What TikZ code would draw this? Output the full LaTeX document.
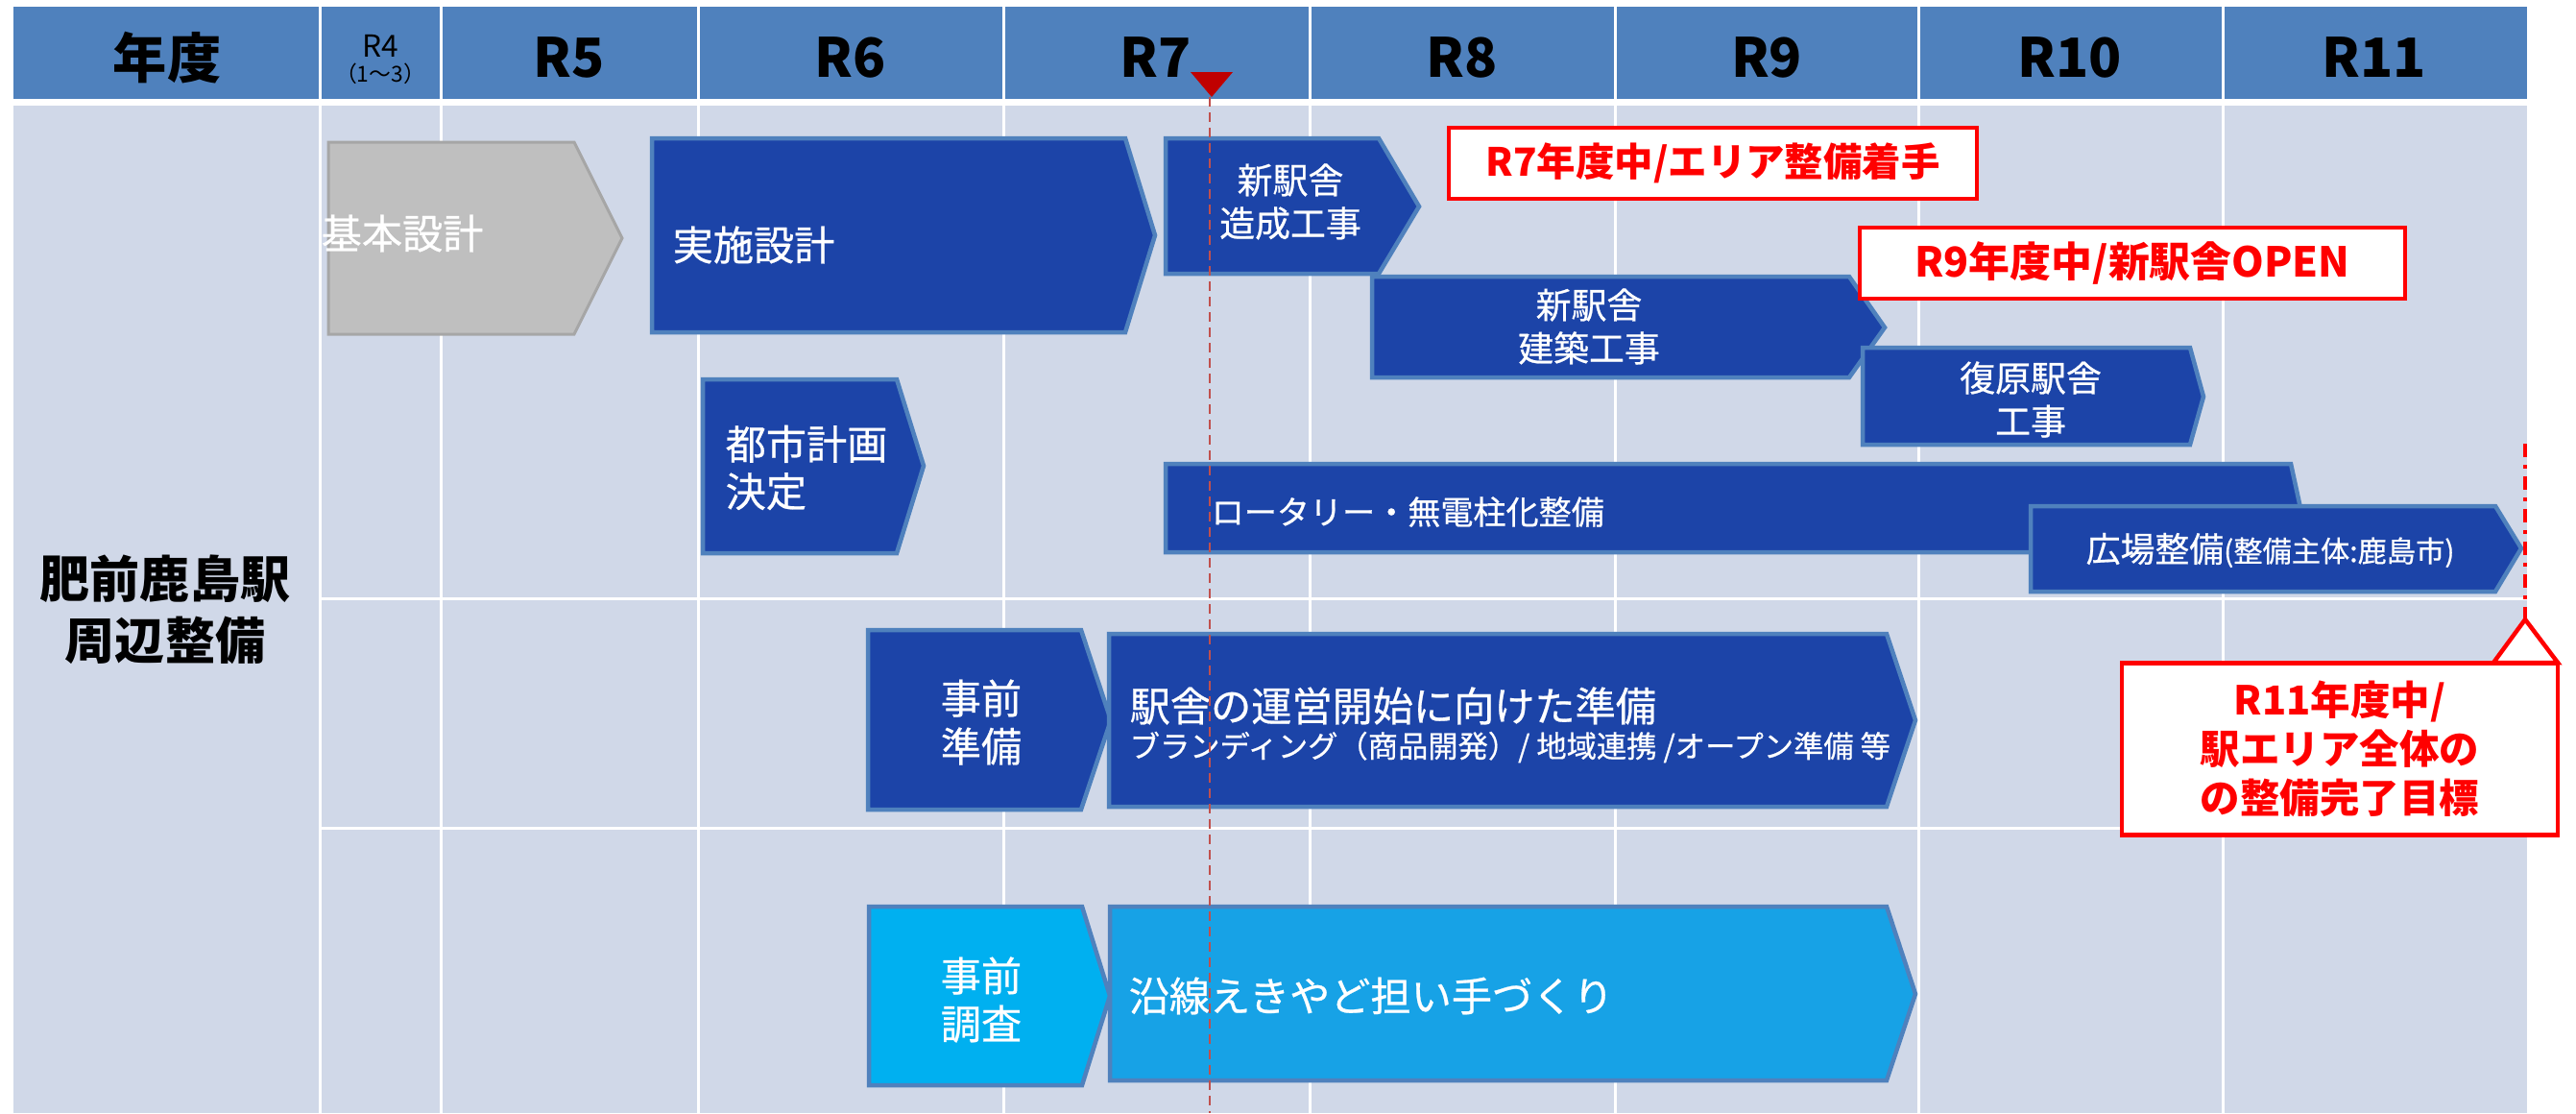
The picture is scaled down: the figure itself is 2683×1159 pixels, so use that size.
\documentclass[tikz,border=0pt]{standalone}
\usepackage{fontspec}
\setmainfont{Noto Sans CJK JP}
\newfontfamily\barfont{Noto Sans CJK JP}[FakeBold=0.6]
\usetikzlibrary{positioning}

\definecolor{headblue}{HTML}{4F81BD}
\definecolor{bodygray}{HTML}{D0D8E8}
\definecolor{barblue}{HTML}{1C44A8}
\definecolor{barcyan}{HTML}{00B0F0}
\definecolor{barsky}{HTML}{17A2E6}
\definecolor{barlight}{HTML}{BFBFBF}
\definecolor{barlightedge}{HTML}{A6A6A6}
\definecolor{nowred}{HTML}{C0504D}
\definecolor{markred}{HTML}{C00000}

\begin{document}
\begin{tikzpicture}[x=0.1mm,y=-0.1mm]

\tikzset{
  sepline/.style={white,line width=0.3mm},
  darkbar/.style={fill=barblue,draw=headblue,line width=0.45mm},
  graybar/.style={fill=barlight,draw=barlightedge,line width=0.3mm},
  cyanbar/.style={fill=barcyan,draw=headblue,line width=0.45mm},
  skybar/.style={fill=barsky,draw=headblue,line width=0.45mm},
  yeartext/.style={font=\bfseries\fontsize{16}{18}\selectfont,inner sep=0pt},
  bartext/.style={text=white,inner sep=0pt,align=left,font=\barfont\fontsize{12}{14}\selectfont},
  midtext/.style={text=white,inner sep=0pt,align=center,font=\barfont\fontsize{10.5}{12.8}\selectfont},
  smalltext/.style={text=white,inner sep=0pt,font=\barfont\fontsize{8.9}{10}\selectfont},
  goalbox/.style={draw=red,line width=0.45mm,fill=white,text=red,font=\bfseries\fontsize{11.5}{13}\selectfont},
}

\useasboundingbox (0,0) rectangle (2683,1159);
\fill[white] (0,0) rectangle (2683,1159);

% table
\fill[headblue] (14,7) rectangle (2632,103);
\fill[bodygray] (14,110) rectangle (2632,1159);
\foreach \x in {333,459,727,1045,1364,1682,1998,2315}
  \draw[sepline] (\x,7) -- (\x,1159);
\foreach \y in {623,862}
  \draw[sepline] (333,\y) -- (2632,\y);

% year row
\node[yeartext] (nendo) at (174,60) {年度};
\node[font=\fontsize{9}{10}\selectfont,inner sep=0pt] (yR4) at (396,48) {R4};
\node[font=\fontsize{6.5}{7}\selectfont,inner sep=0pt,below=1.4pt of yR4] (yR4sub) {（1〜3）};
\foreach \x/\yr in {593/R5,886/R6,1204/R7,1523/R8,1840/R9,2156/R10,2473/R11}
  \node[yeartext] (y\yr) at (\x,60) {\yr};

\node[font=\bfseries\fontsize{14.8}{18.2}\selectfont,align=center,inner sep=0pt] (area) at (172,635) {肥前鹿島駅\\周辺整備};

% design
\draw[graybar] (342,148) -- (598,148) -- (648,248) -- (598,348) -- (342,348) -- cycle;
\node[bartext,anchor=west] (kihon) at (334,243) {基本設計};
\draw[darkbar] (679,144) -- (1172,144) -- (1203,245) -- (1172,346) -- (679,346) -- cycle;
\node[bartext,anchor=west] (jisshi) at (700,255) {実施設計};
\draw[darkbar] (732,395) -- (934,395) -- (962,485) -- (934,576) -- (732,576) -- cycle;
\node[bartext,anchor=west] (toshi) at (755,487) {都市計画\\決定};

% construction
\draw[darkbar] (1214,144) -- (1436,144) -- (1478,215) -- (1436,285) -- (1214,285) -- cycle;
\node[midtext] (zousei) at (1344,210) {新駅舎\\造成工事};
\draw[darkbar] (1429,288) -- (1926,288) -- (1963,341) -- (1926,393) -- (1429,393) -- cycle;
\node[midtext] (kenchiku) at (1655,340) {新駅舎\\建築工事};
\draw[darkbar] (1940,362) -- (2281,362) -- (2295,413) -- (2281,463) -- (1940,463) -- cycle;
\node[midtext] (fukugen) at (2115,416) {復原駅舎\\工事};
\draw[darkbar] (1214,483) -- (2386,483) -- (2396,529) -- (2386,575) -- (1214,575) -- cycle;
\node[bartext,anchor=west,font=\barfont\fontsize{9.7}{11}\selectfont] (rotary) at (1261,533) {ロータリー・無電柱化整備};
\draw[darkbar] (2115,527) -- (2599,527) -- (2626,571) -- (2599,616) -- (2115,616) -- cycle;
\node[bartext,anchor=west,font=\barfont\fontsize{10.2}{12}\selectfont] (hiroba) at (2172,573) {広場整備{\fontsize{8.6}{9}\selectfont(整備主体:鹿島市)}};

% operation
\draw[darkbar] (904,656) -- (1126,656) -- (1157,750) -- (1126,843) -- (904,843) -- cycle;
\node[bartext,align=center,font=\barfont\fontsize{12}{14.2}\selectfont] (junbi) at (1022,752) {事前\\準備};
\draw[darkbar] (1155,660) -- (1965,660) -- (1995,750) -- (1965,840) -- (1155,840) -- cycle;
\node[bartext,anchor=west] (unei) at (1176,735) {駅舎の運営開始に向けた準備};
\node[smalltext,anchor=west] (uneisub) at (1176,778) {ブランディング（商品開発）/ 地域連携 /オープン準備 等};

% people
\draw[cyanbar] (905,944) -- (1127,944) -- (1156,1037) -- (1127,1130) -- (905,1130) -- cycle;
\node[bartext,align=center,font=\barfont\fontsize{12}{14.2}\selectfont] (chousa) at (1022,1041) {事前\\調査};
\draw[skybar] (1156,944) -- (1965,944) -- (1995,1035) -- (1965,1125) -- (1156,1125) -- cycle;
\node[bartext,anchor=west] (ninaite) at (1175,1037) {沿線えきやど担い手づくり};

% now marker
\fill[markred] (1240,75) -- (1284,75) -- (1262,101) -- cycle;
\coordinate (nowtop) at (1260,101);
\coordinate (nowbot) at (1260,1159);
\draw[nowred,line width=0.2mm,dash pattern=on 1mm off 0.6mm] (nowtop) -- (nowbot);

% goals
\node[goalbox,minimum width=55mm,minimum height=7.4mm] (goalR7) at (1784,170) {R7年度中/エリア整備着手};
\node[goalbox,minimum width=56.8mm,minimum height=7.4mm,font=\bfseries\fontsize{12.2}{13}\selectfont] (goalR9) at (2221,274) {R9年度中/新駅舎OPEN};
\node[goalbox,minimum width=45.4mm,minimum height=17.9mm,align=center,font=\bfseries\fontsize{11.8}{14.5}\selectfont] (goalR11) at (2437,780) {R11年度中/\\駅エリア全体の\\の整備完了目標};
\coordinate (goaltip) at (2630,645);
\filldraw[draw=red,fill=white,line width=0.45mm] (2597,690) -- (goaltip) -- (2664,690) -- cycle;
\coordinate (goaltop) at (2630,462);
\draw[red,line width=0.4mm,dash pattern=on 1.4mm off 0.8mm on 0.4mm off 0.8mm] (goaltop) -- (goaltip);

\end{tikzpicture}
\end{document}
